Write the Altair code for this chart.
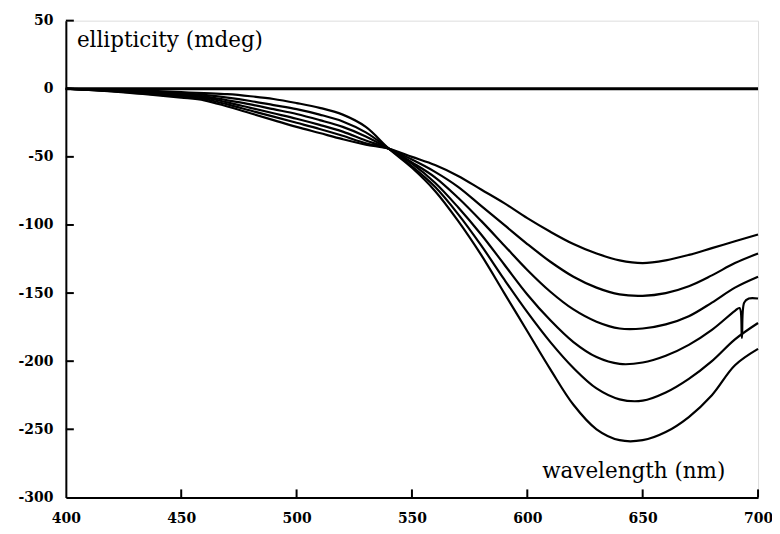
import altair as alt
import pandas as pd

# wavelengths (nm)
wavelengths = [400, 410, 420, 430, 440, 450, 460, 470, 480, 490, 500, 510, 520, 530, 540,
               550, 560, 570, 580, 590, 600, 610, 620, 630, 640, 650, 660, 670, 680, 690, 700]

# ellipticity (mdeg) for six spectra
c1 = [0, -0.9, -2, -3.4, -4.8, -6.5, -8.5, -13, -18, -23, -28, -32.5, -37, -41, -44,
      -50, -56, -64, -74, -84, -95, -105, -114, -121, -126, -128, -126, -122, -117, -112, -107]
c2 = [0, -0.8, -1.8, -3, -4.3, -5.8, -7.5, -11.5, -16, -20.5, -25, -29.5, -34.5, -40, -44,
      -52, -61, -72, -86, -100, -114, -127, -138, -146, -151, -152, -150, -145, -137, -128, -121]
c3 = [0, -0.7, -1.5, -2.6, -3.8, -5, -6.5, -10, -14, -18, -22, -26.5, -31.5, -38, -44,
      -54, -65, -80, -97, -115, -133, -149, -162, -171, -176, -176, -173, -167, -157, -146, -138]
c4 = [0, -0.6, -1.3, -2.2, -3.2, -4.3, -5.5, -8.5, -11.5, -15, -18.5, -23, -28, -35, -44,
      -55, -69, -87, -107, -129, -151, -170, -186, -197, -202, -201, -196, -188, -177, -163, -154]
c5 = [0, -0.5, -1, -1.7, -2.5, -3.5, -4.5, -6.5, -9, -12, -15, -19, -24, -32, -44,
      -57, -72, -92, -115, -140, -164, -186, -205, -220, -228, -229, -223, -213, -200, -184, -172]
c6 = [0, -0.3, -0.7, -1.2, -1.8, -2.5, -3.2, -4, -5.5, -7.5, -10.5, -14, -19, -28, -44,
      -58, -75, -97, -122, -150, -178, -206, -232, -250, -258, -258, -252, -241, -225, -203, -191]

# glitch in spectrum 4 near 693 nm
spike_wl = [692, 693, 694, 696]
spike_val = [-161, -183, -157, -154]

# zero baseline
base_wl = [400, 700]
base_val = [0, 0]

x_ticks = [400, 450, 500, 550, 600, 650, 700]
y_ticks = [-300, -250, -200, -150, -100, -50, 0, 50]

rows = []
for name, vals in [("1", c1), ("2", c2), ("3", c3), ("4", c4), ("5", c5), ("6", c6)]:
    for w, v in zip(wavelengths, vals):
        rows.append({"wl": w, "val": v, "s": name})
    if name == "4":
        for w, v in zip(spike_wl, spike_val):
            rows.append({"wl": w, "val": v, "s": name})
df = pd.DataFrame(rows).sort_values(["s", "wl"])

FONT = "DejaVu Serif"
xscale = alt.Scale(domain=[400, 700], nice=False, zero=False)
yscale = alt.Scale(domain=[-300, 50], nice=False, zero=False)

xaxis = alt.Axis(values=x_ticks, ticks=False, tickSize=0, grid=False, domainColor="black",
                 domainWidth=2, labelFont=FONT, labelFontWeight="bold", labelFontSize=14,
                 labelColor="black", labelPadding=14, title=None, labelFlush=False)
yaxis = alt.Axis(values=y_ticks, ticks=False, tickSize=0, grid=False, domainColor="black",
                 domainWidth=2, labelFont=FONT, labelFontWeight="bold", labelFontSize=14,
                 labelColor="black", labelPadding=13, title=None, labelFlush=False,
                 labelExpr="'' + datum.value")

curves = alt.Chart(df).mark_line(color="black", strokeWidth=2.2, interpolate="catmull-rom").encode(
    x=alt.X("wl:Q", scale=xscale, axis=xaxis),
    y=alt.Y("val:Q", scale=yscale, axis=yaxis),
    detail="s:N",
)

baseline = alt.Chart(pd.DataFrame({"wl": base_wl, "val": base_val})).mark_line(
    color="black", strokeWidth=3).encode(
    x=alt.X("wl:Q", scale=xscale, title=None),
    y=alt.Y("val:Q", scale=yscale, title=None),
)

ytick_rules = alt.Chart(pd.DataFrame({"t": [t for t in y_ticks if t > -300]})).mark_rule(
    color="black", strokeWidth=2).encode(
    y=alt.Y("t:Q", scale=yscale, title=None),
    x=alt.value(0), x2=alt.value(8),
)

xtick_rules = alt.Chart(pd.DataFrame({"t": [t for t in x_ticks if t > 400]})).mark_rule(
    color="black", strokeWidth=2).encode(
    x=alt.X("t:Q", scale=xscale, title=None),
    y=alt.value(478), y2=alt.value(470),
)

ylab = alt.Chart(pd.DataFrame({"wl": [404.8], "val": [31], "txt": ["ellipticity (mdeg)"]})).mark_text(
    font=FONT, fontSize=21.5, align="left", baseline="alphabetic", color="black").encode(
    x=alt.X("wl:Q", scale=xscale, title=None),
    y=alt.Y("val:Q", scale=yscale, title=None),
    text="txt:N",
)

xlab = alt.Chart(pd.DataFrame({"wl": [685.8], "val": [-286], "txt": ["wavelength (nm)"]})).mark_text(
    font=FONT, fontSize=21.5, align="right", baseline="alphabetic", color="black").encode(
    x=alt.X("wl:Q", scale=xscale, title=None),
    y=alt.Y("val:Q", scale=yscale, title=None),
    text="txt:N",
)

chart = alt.layer(curves, baseline, ytick_rules, xtick_rules, ylab, xlab).properties(
    width=694, height=478,
    autosize=alt.AutoSizeParams(type="none"),
    padding={"left": 58, "top": 12, "right": 14, "bottom": 28},
).configure_view(stroke=None).configure(background="white")

chart.save("out.html", embed_options={"renderer": "svg", "actions": False})
